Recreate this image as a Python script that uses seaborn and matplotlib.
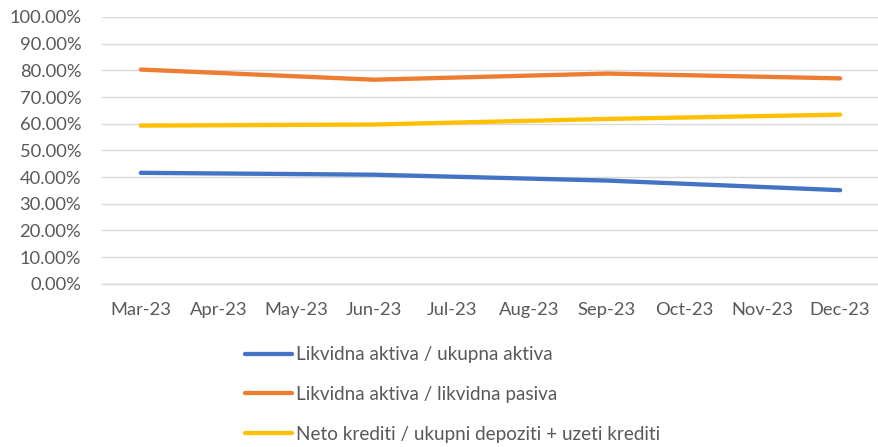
import matplotlib
matplotlib.use("Agg")
import matplotlib.pyplot as plt
import seaborn as sns
import pandas as pd
import numpy as np

months = ["Mar-23", "Apr-23", "May-23", "Jun-23", "Jul-23", "Aug-23", "Sep-23", "Oct-23", "Nov-23", "Dec-23"]
quarter_months = ["Mar-23", "Jun-23", "Sep-23", "Dec-23"]
likvidna_ukupna = [41.6, 40.9, 38.7, 35.1]
likvidna_pasiva = [80.3, 76.5, 78.8, 77.0]
neto_krediti = [59.3, 59.7, 61.8, 63.4]
series_names = ["Likvidna aktiva / ukupna aktiva",
                "Likvidna aktiva / likvidna pasiva",
                "Neto krediti / ukupni depoziti + uzeti krediti"]
colors = ["#4472C4", "#ED7D31", "#FFC000"]

sns.set_theme(style="white")
plt.rcParams["font.family"] = ["Lato", "DejaVu Sans"]

pos = {m: i for i, m in enumerate(months)}
rows = []
for name, vals in zip(series_names, [likvidna_ukupna, likvidna_pasiva, neto_krediti]):
    for m, v in zip(quarter_months, vals):
        rows.append({"month": pos[m], "value": v, "series": name})
df = pd.DataFrame(rows)

fig = plt.figure(figsize=(8.79, 4.47), dpi=100)
ax = fig.add_axes([0.116, 0.365, 0.884, 0.597])

sns.lineplot(data=df, x="month", y="value", hue="series", palette=colors,
             hue_order=series_names, linewidth=3.1, ax=ax, legend=False,
             solid_capstyle="round")

ax.set_xlim(-0.5, len(months) - 0.5)
ax.set_ylim(0, 100)
ax.set_yticks(np.arange(0, 101, 10))
ax.set_yticklabels([f"{v:.2f}%" for v in np.arange(0, 101, 10)], color="#595959", fontsize=13.2)
ax.set_xticks(range(len(months)))
ax.set_xticklabels(months, color="#595959", fontsize=13.2)
ax.set_xticks(np.arange(-0.5, len(months), 1), minor=True)
ax.tick_params(axis="x", which="major", length=0, pad=13)
ax.tick_params(axis="x", which="minor", length=5, color="#D9D9D9", width=1)
ax.tick_params(axis="y", length=0, pad=15)
ax.yaxis.grid(True, color="#D9D9D9", linewidth=1)
ax.set_axisbelow(True)
for s in ["top", "right", "left"]:
    ax.spines[s].set_visible(False)
ax.spines["bottom"].set_color("#D9D9D9")
ax.spines["bottom"].set_linewidth(1)
ax.set_xlabel("")
ax.set_ylabel("")

handles = [plt.Line2D([], [], color=c, linewidth=3.1, solid_capstyle="round") for c in colors]
leg = fig.legend(handles, series_names, loc="upper left", bbox_to_anchor=(0.279, 0.225),
                 frameon=False, fontsize=13.6, handlelength=2.45, handletextpad=0.25,
                 labelspacing=1.2, borderaxespad=0, borderpad=0)
for t in leg.get_texts():
    t.set_color("#595959")

fig.savefig("out.png", dpi=100)
